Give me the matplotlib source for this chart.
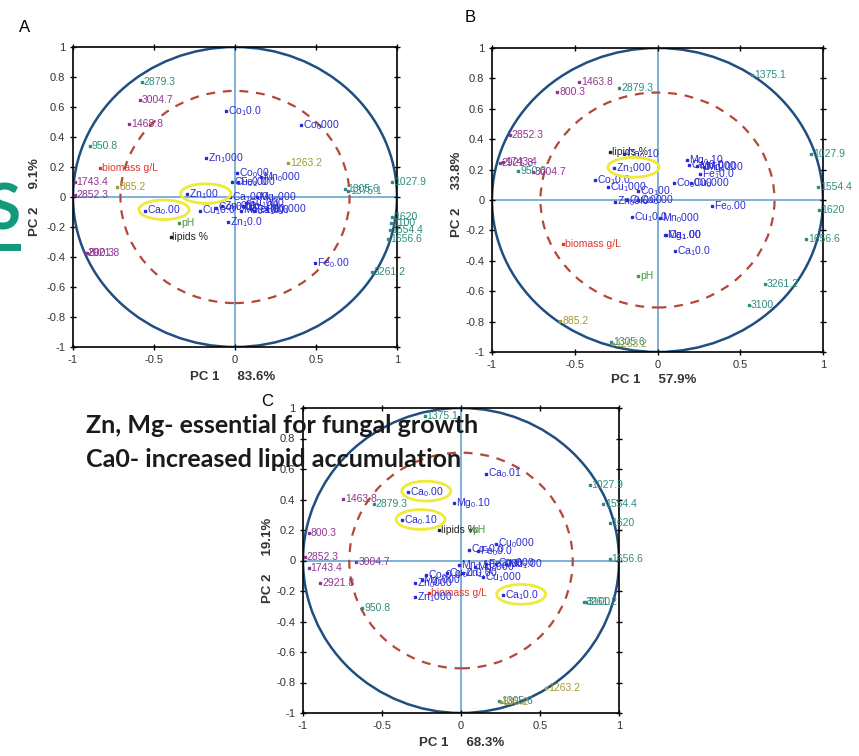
import matplotlib

matplotlib.use("Agg")
import matplotlib.pyplot as plt
import numpy as np
from matplotlib.patches import Circle, Ellipse, Rectangle

plt.rcParams["font.family"] = ["Liberation Sans", "DejaVu Sans"]
plt.rcParams["mathtext.default"] = "regular"

W, H = 859, 756

# ---- panel A: loadings (PC1 83.6 %, PC2 9.1 %) ----
a_labels = ["2879.3", "3004.7", "1468.8", "950.8", "biomass g/L", "1743.4", "885.2", "2852.3",
            "pH", "lipids %", "2921.8", "800.3", "1263.2", "1305.6", "1375.1", "1027.9",
            "1620", "3100", "1554.4", "1656.6", "3261.2",
            "Co$_1$0.0", "Co$_0$000", "Zn$_1$000", "Co$_0$00", "Cu$_0$0.0", "Fe$_1$000", "Mn$_0$000",
            "Zn$_1$00", "Ca$_0$.00", "Cu$_1$0.0", "Zn$_1$0.0", "Fe$_0$.00", "Ca$_1$000", "Mg$_0$000",
            "Cu$_1$000", "Mn$_1$.00", "Fe$_1$.00", "Zn$_0$0.0", "Co$_0$0.0", "Mg$_1$000", "Ca$_1$0.0",
            "Mn$_0$.10"]
a_pc1 = [-0.577, -0.588, -0.654, -0.897, -0.835, -0.99, -0.728, -0.99,
         -0.346, -0.398, -0.92, -0.915, 0.33, 0.68, 0.70, 0.97,
         0.97, 0.963, 0.955, 0.944, 0.845,
         -0.056, 0.41, -0.18, 0.01, -0.02, 0.02, 0.16,
         -0.295, -0.553, -0.216, -0.045, 0.495, -0.03, 0.136,
         0.07, 0.05, 0.10, -0.08, -0.12, 0.20, 0.12,
         0.04]
a_pc2 = [0.77, 0.645, 0.49, 0.34, 0.195, 0.10, 0.07, 0.013,
         -0.175, -0.268, -0.375, -0.372, 0.224, 0.053, 0.04, 0.10,
         -0.13, -0.17, -0.22, -0.28, -0.503,
         0.572, 0.477, 0.26, 0.16, 0.10, 0.10, 0.135,
         0.018, -0.09, -0.09, -0.165, -0.44, 0.0, 0.0,
         -0.04, -0.06, -0.08, -0.06, -0.07, -0.08, -0.09,
         -0.09]
a_kind = ["teal", "purple", "purple", "teal", "biomass", "purple", "olive", "purple",
          "ph", "lipids", "purple", "purple", "olive", "teal", "teal", "teal",
          "teal", "teal", "teal", "teal", "teal"] + ["metal"] * 22
a_marked = ["Zn$_1$00", "Ca$_0$.00"]

# ---- panel B: loadings (PC1 57.9 %, PC2 33.8 %) ----
b_labels = ["1375.1", "1463.8", "2879.3", "800.3", "2852.3", "2921.8", "1743.4", "950.8", "3004.7",
            "lipids %", "1027.9", "1554.4", "1620", "1656.6", "3261.2", "3100", "pH", "biomass g/L",
            "885.2", "1305.6", "1263.2",
            "Ca$_0$.10", "Zn$_1$000", "Co$_1$0.0", "Cu$_1$000", "Co$_1$00.", "Zn$_0$0.0", "Cu$_0$.00",
            "Co$_0$.00", "Cu$_1$0.0", "Mn$_0$000", "Mg$_1$.00", "Ca$_1$.00", "Ca$_1$0.0", "Fe$_0$.00",
            "Mg$_0$.10", "Ca$_0$0.0", "Mn$_1$000", "Mg$_1$000", "Fe$_1$0.0", "Co$_0$000", "Cu$_0$000"]
b_pc1 = [0.571, -0.472, -0.23, -0.605, -0.892, -0.953, -0.935, -0.842, -0.755,
         -0.287, 0.93, 0.97, 0.975, 0.898, 0.648, 0.551, -0.115, -0.569,
         -0.589, -0.28, -0.27,
         -0.20, -0.26, -0.377, -0.297, -0.115, -0.256, -0.186,
         -0.12, -0.155, 0.016, 0.046, 0.05, 0.103, 0.329,
         0.178, 0.19, 0.24, 0.28, 0.258, 0.097, 0.20]
b_pc2 = [0.82, 0.776, 0.737, 0.71, 0.425, 0.245, 0.25, 0.19, 0.184,
         0.316, 0.305, 0.085, -0.064, -0.254, -0.55, -0.693, -0.50, -0.287,
         -0.796, -0.934, -0.945,
         0.305, 0.21, 0.13, 0.086, 0.057, -0.01, 0.002,
         0.0, -0.11, -0.118, -0.232, -0.232, -0.335, -0.04,
         0.265, 0.23, 0.225, 0.22, 0.173, 0.112, 0.11]
b_kind = ["teal", "purple", "teal", "purple", "purple", "purple", "purple", "teal", "purple",
          "lipids", "teal", "teal", "teal", "teal", "teal", "teal", "ph", "biomass",
          "olive", "teal", "olive"] + ["metal"] * 21
b_marked = ["Zn$_1$000"]

# ---- panel C: loadings (PC1 68.3 %, PC2 19.1 %) ----
c_labels = ["1375.1", "1027.9", "1554.4", "1620", "1656.6", "3261.2", "3100", "1263.2", "1305.6",
            "885.2", "1463.8", "2879.3", "lipids %", "pH", "800.3", "2852.3", "1743.4", "3004.7",
            "2921.8", "950.8", "biomass g/L",
            "Ca$_0$.01", "Ca$_0$.00", "Mg$_0$.10", "Ca$_0$.10", "Zn$_1$000", "Zn$_0$000", "Co$_0$0.0",
            "Cu$_0$0.0", "Mg$_1$000", "Ca$_1$0.0", "Co$_1$0.0", "Fe$_0$0.0", "Cu$_0$000", "Mn$_0$.10",
            "Fe$_1$000", "Mn$_1$.00", "Co$_0$000", "Cu$_1$000", "Zn$_1$.00", "Mg$_0$000"]
c_pc1 = [-0.23, 0.814, 0.899, 0.94, 0.94, 0.778, 0.79, 0.54, 0.24,
         0.25, -0.747, -0.553, -0.139, 0.06, -0.964, -0.99, -0.964, -0.662,
         -0.89, -0.624, -0.20,
         0.16, -0.335, -0.046, -0.371, -0.293, -0.293, -0.22,
         -0.09, -0.25, 0.266, 0.05, 0.108, 0.224, -0.01,
         0.16, 0.287, 0.22, 0.14, 0.013, 0.09]
c_pc2 = [0.95, 0.493, 0.373, 0.249, 0.01, -0.27, -0.275, -0.838, -0.92,
         -0.93, 0.406, 0.369, 0.198, 0.20, 0.183, 0.024, -0.048, -0.009,
         -0.146, -0.31, -0.216,
         0.57, 0.45, 0.38, 0.264, -0.242, -0.146, -0.096,
         -0.08, -0.13, -0.227, 0.072, 0.061, 0.111, -0.03,
         -0.026, -0.026, -0.02, -0.107, -0.08, -0.04]
c_kind = ["teal", "teal", "teal", "teal", "teal", "teal", "teal", "olive", "teal",
          "olive", "purple", "teal", "lipids", "ph", "purple", "purple", "purple", "purple",
          "purple", "teal", "biomass"] + ["metal"] * 20
c_marked = ["Ca$_0$.00", "Ca$_0$.10", "Ca$_1$0.0"]

x_ticks = [-1, -0.5, 0, 0.5, 1]
y_ticks = [-1, -0.8, -0.6, -0.4, -0.2, 0, 0.2, 0.4, 0.6, 0.8, 1]

COLORS = {
    "metal": "#2b2bd4",
    "teal": "#2e8c7e",
    "purple": "#8e3590",
    "olive": "#a39a38",
    "biomass": "#e0362c",
    "ph": "#3f9a35",
    "lipids": "#222222",
}

fig = plt.figure(figsize=(W / 100, H / 100), dpi=100)


def px(x, y):
    return x / W, 1 - y / H


def panel(box, labels, pc1, pc2, kinds, marked):
    left, top, right, bottom = box
    ax = fig.add_axes([left / W, 1 - bottom / H, (right - left) / W, (bottom - top) / H])
    ax.set_xlim(-1, 1)
    ax.set_ylim(-1, 1)
    ax.axhline(0, color="#5b9bcc", lw=1.1, zorder=1)
    ax.axvline(0, color="#5b9bcc", lw=1.1, zorder=1)
    ax.add_patch(Circle((0, 0), 1, fill=False, ec="#1f4f80", lw=1.8, zorder=2))
    ax.add_patch(Circle((0, 0), np.sqrt(0.5), fill=False, ec="#b5473a", lw=1.6,
                        ls=(0, (4, 3.5)), zorder=2))
    for lab, x, y, k in zip(labels, pc1, pc2, kinds):
        c = COLORS[k]
        ax.plot(x, y, "s", ms=1.8, color=c, zorder=4)
        ax.text(x + 0.012, y, lab, color=c, fontsize=7.5, va="center", ha="left", zorder=5)
        if lab in marked:
            ax.add_patch(Ellipse((x + 0.115, y + 0.005), 0.31, 0.13, fill=False,
                                 ec="#eeea3a", lw=2, zorder=6))
    ax.set_xticks(x_ticks)
    ax.set_yticks(y_ticks)
    ax.set_xticklabels([f"{v:g}" for v in x_ticks])
    ax.set_yticklabels([f"{v:g}" for v in y_ticks])
    ax.tick_params(direction="inout", top=True, right=True, length=5, width=1,
                   labelsize=8, pad=3, labelcolor="#333333")
    for s in ax.spines.values():
        s.set_linewidth(1.2)
    return ax


panel((73, 47, 397, 347), a_labels, a_pc1, a_pc2, a_kind, a_marked)
panel((492, 48, 823, 352), b_labels, b_pc1, b_pc2, b_kind, b_marked)
panel((303, 408, 619, 713), c_labels, c_pc1, c_pc2, c_kind, c_marked)

# panel letters and axis titles
for letter, (x, y) in zip("ABC", [(25, 27), (470, 17), (267, 402)]):
    fig.text(*px(x, y), letter, fontsize=12, ha="center", va="center")

for txt, (x, y) in zip(["PC 1     83.6%", "PC 1     57.9%", "PC 1     68.3%"],
                       [(233, 377), (654, 380), (462, 743)]):
    fig.text(*px(x, y), txt, fontsize=9.5, weight="bold", color="#333333", ha="center", va="center")

for txt, (x, y) in zip(["PC 2     9.1%", "PC 2     33.8%", "PC 2     19.1%"],
                       [(35, 197), (457, 194), (268, 560)]):
    fig.text(*px(x, y), txt, fontsize=9.5, weight="bold", color="#333333", rotation=90,
             ha="center", va="center")

# clipped glyph at the left edge
fig.text(*px(21, 229), "S", fontsize=46, weight="bold", color="#14997c", ha="right",
         va="baseline", family="Lato")
fig.add_artist(Rectangle(px(0, 251), 21 / W, 7 / H, transform=fig.transFigure,
                         color="#14997c", lw=0))

# overlay notes
t1 = fig.text(*px(0, 433), "Zn, Mg- essential for fungal growth", fontsize=18, weight="bold",
              family="Lato", color="#1a1a1a", va="baseline", zorder=10)
t2 = fig.text(*px(0, 467), "Ca0- increased lipid accumulation", fontsize=18, weight="bold",
              family="Lato", color="#1a1a1a", va="baseline", zorder=10)
fig.canvas.draw()
shift = 478 - t1.get_window_extent().x1
t1.set_x(shift / W)
t2.set_x(shift / W)

fig.savefig("out.png", dpi=100)
